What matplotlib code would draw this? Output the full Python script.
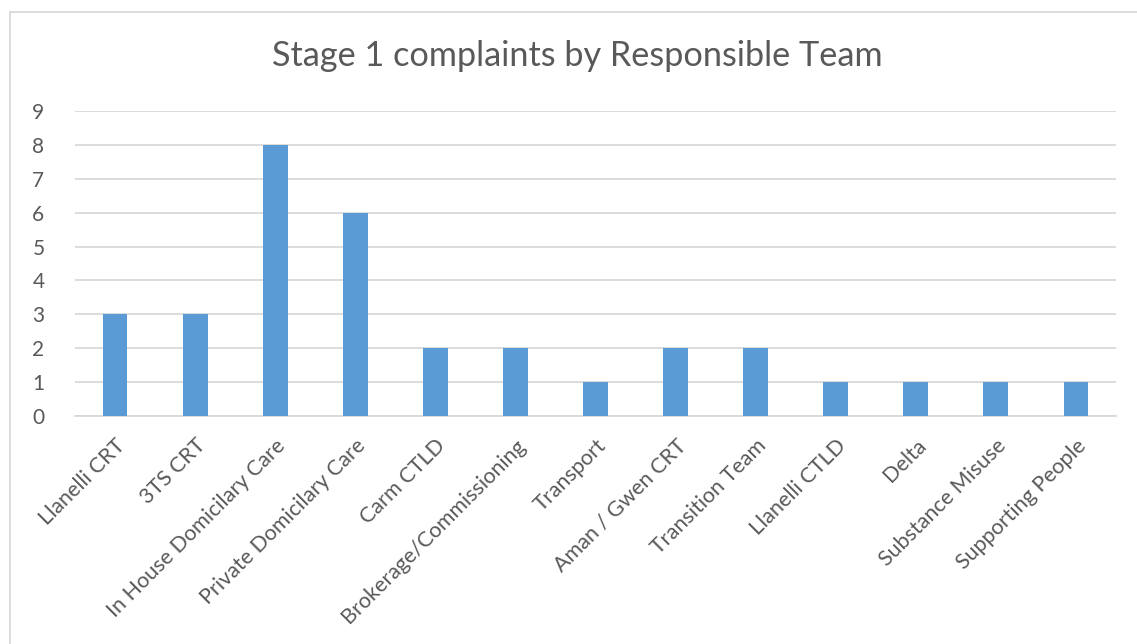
import matplotlib
matplotlib.use("Agg")
import matplotlib.pyplot as plt
from matplotlib.patches import Rectangle

categories = ["Llanelli CRT", "3TS CRT", "In House Domicilary Care", "Private Domicilary Care",
              "Carm CTLD", "Brokerage/Commissioning", "Transport", "Aman / Gwen CRT",
              "Transition Team", "Llanelli CTLD", "Delta", "Substance Misuse", "Supporting People"]
values = [3, 3, 8, 6, 2, 2, 1, 2, 2, 1, 1, 1, 1]
yticks = list(range(0, 10))
title = "Stage 1 complaints by Responsible Team"

plt.rcParams['font.family'] = ['Lato', 'DejaVu Sans']
W, H = 1137, 644
fig = plt.figure(figsize=(W / 100, H / 100), dpi=100)
fig.patch.set_facecolor("white")

# chart border
fig.add_artist(Rectangle((10 / W, -0.01), 1.1, 1 - 12 / H + 0.01, transform=fig.transFigure,
                         fill=False, edgecolor="#d9d9d9", linewidth=1.3))

ax = fig.add_axes([75 / W, 1 - 416 / H, (1116 - 75) / W, (416 - 111) / H])
x = range(len(categories))
ax.bar(x, values, width=0.31, color="#5b9bd5", zorder=3)
ax.set_xlim(-0.5, len(categories) - 0.5)
ax.set_ylim(0, 9)
ax.set_yticks(yticks)
ax.set_yticklabels([str(v) for v in yticks], fontsize=15, color="#595959")
ax.yaxis.grid(True, color="#d9d9d9", linewidth=1.3, zorder=0)
ax.tick_params(axis="y", length=0, pad=22)
ax.tick_params(axis="x", length=0, pad=14)
ax.set_xticks(list(x))
ax.set_xticklabels(categories, rotation=45, ha="right", va="top", rotation_mode="anchor",
                   fontsize=15.5, color="#595959")
for s in ["top", "right", "left"]:
    ax.spines[s].set_visible(False)
ax.spines["bottom"].set_color("#d9d9d9")
ax.spines["bottom"].set_linewidth(1.3)
ax.set_facecolor("white")

fig.text(577 / W, 1 - 56 / H, title, ha="center", va="center", fontsize=24.7, color="#595959")

fig.savefig("out.png", dpi=100)
